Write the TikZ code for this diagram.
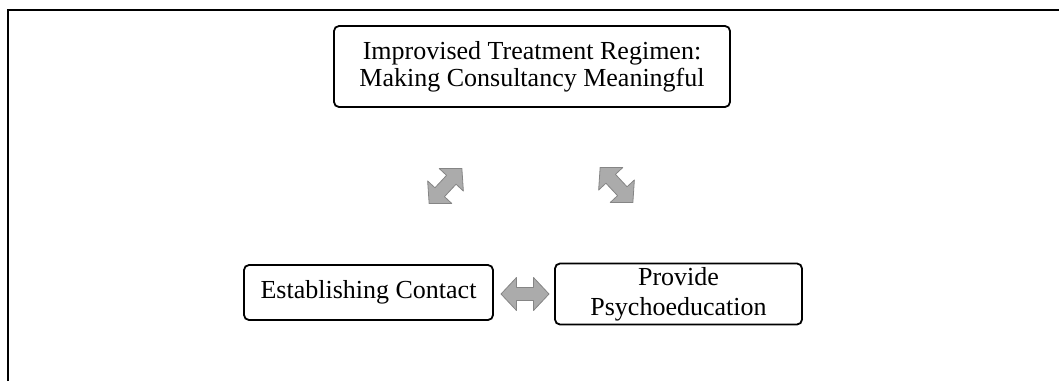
\documentclass[tikz,border=0pt]{standalone}
\usepackage{fontspec}
\setmainfont{Liberation Serif}
\definecolor{arrfill}{HTML}{ABABAB}
\definecolor{arrdraw}{HTML}{858585}
\tikzset{
  box/.style={draw=black, line width=1.8pt, rounded corners=5pt, fill=white,
    inner sep=0pt, align=center, text=black},
  dblarrow/.pic={
    \fill[arrfill, draw=arrdraw, line width=0.8pt, line join=round]
      (-24,0) -- (-8.5,16.5) -- (-8.5,6.5) -- (8.5,6.5) -- (8.5,16.5) -- (24,0)
      -- (8.5,-16.5) -- (8.5,-6.5) -- (-8.5,-6.5) -- (-8.5,-16.5) -- cycle;
  }
}
\begin{document}
\begin{tikzpicture}[x=1pt, y=-1pt]
\useasboundingbox (0,0) rectangle (1059,381);
% frame
\draw[line width=2pt] (8.2,381) -- (8.2,10) -- (1059,10);
% boxes
\node[box, minimum width=396pt, minimum height=81pt,
  font=\fontsize{26}{27}\selectfont] (top) at (532,66.5)
  {Improvised Treatment Regimen:\\Making Consultancy Meaningful};
\node[box, minimum width=249pt, minimum height=55pt,
  font=\fontsize{26}{27}\selectfont] (est) at (368.5,292.5)
  {Establishing Contact};
\node[box, minimum width=247pt, minimum height=61pt,
  font=\fontsize{26}{30}\selectfont] (psy) at (678.5,294)
  {Provide\\Psychoeducation};
% arrows
\pic[rotate=47] at (445.5,186) {dblarrow};
\pic[rotate=-47] at (616.5,185) {dblarrow};
\pic at (525,294) {dblarrow};
\end{tikzpicture}
\end{document}
